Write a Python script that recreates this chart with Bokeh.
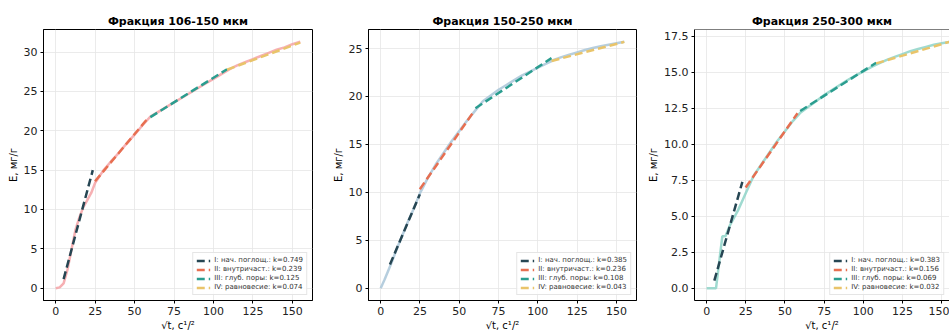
import numpy as np
from bokeh.plotting import figure
from bokeh.layouts import row
from bokeh.models import Range1d, SingleIntervalTicker, PrintfTickFormatter, Span
from bokeh.embed import file_html
from bokeh.resources import INLINE

# ---------------- data ----------------
titles = ["Фракция 106-150 мкм", "Фракция 150-250 мкм", "Фракция 250-300 мкм"]
stage_names = ["I: нач. поглощ.", "II: внутричаст.", "III: глуб. поры", "IV: равновесие"]
stage_colors = ["#264653", "#e76f51", "#2a9d8f", "#e9c46a"]
data_colors = ["#f4a2a6", "#a9c6d8", "#8ed3c8"]

x_std = [0, 2.5, 5, 7.5, 10, 12.5, 15, 17.5, 20, 22.5, 25, 30, 35, 40, 45, 50, 55, 60,
         65, 70, 75, 80, 85, 90, 95, 100, 105, 110, 115, 120, 125, 130, 135, 140, 145, 150, 155]
x_250 = [0, 2.5, 5, 6, 10, 12, 15, 17.5, 20, 22.5, 25, 30, 35, 40, 45, 50, 55, 60,
         65, 70, 75, 80, 85, 90, 95, 100, 105, 110, 115, 120, 125, 130, 135, 140, 145, 150, 155]

E_106 = [0, 0.1, 0.6, 2.4, 4.9, 7.4, 9.0, 10.3, 11.2, 12.1, 13.4, 14.9, 16.1, 17.2, 18.4, 19.5,
         20.7, 21.8, 22.4, 23.0, 23.6, 24.2, 24.8, 25.4, 26.0, 26.6, 27.2, 27.8, 28.3, 28.7, 29.1,
         29.5, 29.9, 30.3, 30.6, 31.0, 31.3]
E_150 = [0, 0.9, 1.9, 2.9, 4.0, 5.0, 6.0, 7.0, 7.9, 8.9, 9.9, 11.5, 12.9, 14.1, 15.3, 16.4,
         17.5, 18.5, 19.5, 20.1, 20.7, 21.2, 21.7, 22.2, 22.6, 23.0, 23.4, 23.8, 24.1, 24.35,
         24.6, 24.85, 25.05, 25.25, 25.4, 25.55, 25.7]
E_250 = [0, 0, 0, 0, 3.6, 3.6, 4.4, 4.9, 5.4, 6.0, 6.6, 7.8, 8.6, 9.4, 10.2, 10.9, 11.6, 12.2,
         12.6, 13.0, 13.4, 13.75, 14.1, 14.45, 14.75, 15.05, 15.35, 15.6, 15.85, 16.05, 16.25,
         16.45, 16.6, 16.75, 16.9, 17.0, 17.1]

# fitted stage lines: slope k, intercept b, x-interval
k_106 = [0.749, 0.239, 0.125, 0.074]
b_106 = [-2.6, 7.63, 14.24, 19.73]
x0_106 = [5.0, 24.9, 60.0, 108.6]
x1_106 = [23.5, 58.0, 108.6, 155.0]

k_150 = [0.385, 0.236, 0.108, 0.043]
b_150 = [0.2, 4.45, 12.26, 19.03]
x0_150 = [5.9, 24.9, 60.3, 108.7]
x1_150 = [24.9, 58.7, 108.7, 155.0]

k_250 = [0.383, 0.156, 0.069, 0.032]
b_250 = [-1.35, 3.1, 8.18, 12.14]
x0_250 = [4.9, 24.9, 59.7, 108.2]
x1_250 = [22.8, 58.0, 108.2, 155.0]

y_step = [5, 5, 2.5]

panels = [
    (x_std, E_106, k_106, b_106, x0_106, x1_106),
    (x_std, E_150, k_150, b_150, x0_150, x1_150),
    (x_250, E_250, k_250, b_250, x0_250, x1_250),
]

FONT = "DejaVu Sans"
# (figure width, min_border_left, min_border_right)
geom = [(329, 43, 17), (316, 38, 9), (304, 47, 0)]

figs = []
for i, (xs, ys, ks, bs, x0s, x1s) in enumerate(panels):
    xs_a = np.array(xs, dtype=float)
    ys_a = np.array(ys, dtype=float)
    xpad = 0.05 * (xs_a.max() - xs_a.min())
    ypad = 0.05 * (ys_a.max() - ys_a.min())
    x_end = xs_a.max() + xpad if i < 2 else xs_a.max()
    w, bl, br = geom[i]
    p = figure(width=w, height=333, output_backend="svg", toolbar_location=None,
               x_range=Range1d(xs_a.min() - xpad, x_end),
               y_range=Range1d(ys_a.min() - ypad, ys_a.max() + ypad),
               min_border_left=bl, min_border_right=br, min_border_top=29, min_border_bottom=0,
               background_fill_color="white", border_fill_color="white")
    p.title.text = titles[i]
    p.title.text_font = FONT
    p.title.text_font_size = "11px"
    p.title.text_font_style = "bold"
    p.title.align = "center"
    p.title.standoff = 4
    p.title.text_color = "black"

    p.line(xs_a, ys_a, color=data_colors[i], line_width=2.5, line_alpha=0.85)
    for j in range(4):
        sx = np.array([x0s[j], x1s[j]])
        sy = ks[j] * sx + bs[j]
        p.line(sx, sy, color=stage_colors[j], line_width=2.5, line_dash="8 4",
               legend_label=f"{stage_names[j]}: k={ks[j]:.3f}")

    p.xaxis.ticker = SingleIntervalTicker(interval=25)
    p.yaxis.ticker = SingleIntervalTicker(interval=y_step[i])
    if i == 2:
        p.yaxis.formatter = PrintfTickFormatter(format="%.1f")
    p.xaxis.axis_label = "√t, c¹/²"
    p.yaxis.axis_label = "E, мг/г"
    for ax in (p.xaxis, p.yaxis):
        ax.axis_label_text_font = FONT
        ax.axis_label_text_font_size = "10px"
        ax.axis_label_text_font_style = "normal"
        ax.axis_label_text_color = "black"
        ax.axis_label_standoff = 2
        ax.major_label_text_font = FONT
        ax.major_label_text_font_size = "11px"
        ax.major_label_text_color = "#222222"
        ax.major_label_standoff = 2
        ax.major_tick_out = 3
        ax.major_tick_in = 0
        ax.minor_tick_line_color = None
        ax.major_tick_line_color = "black"
        ax.axis_line_color = "black"
    p.grid.grid_line_color = "#e6e6e6"
    p.grid.grid_line_width = 0.8
    if i < 2:
        p.outline_line_color = "black"
        p.outline_line_width = 1
        p.outline_line_alpha = 1
    else:
        p.outline_line_color = None
        p.add_layout(Span(location=ys_a.max() + ypad, dimension="width",
                          line_color="black", line_width=1))

    lg = p.legend[0]
    lg.location = "bottom_right"
    lg.label_text_font = FONT
    lg.label_text_font_size = "7px"
    lg.label_text_color = "#333333"
    lg.glyph_width = 14
    lg.glyph_height = 7
    lg.label_height = 7
    lg.spacing = 1
    lg.padding = 3
    lg.margin = 5
    lg.label_standoff = 4
    lg.border_line_color = "#cccccc"
    lg.border_line_width = 1
    lg.background_fill_alpha = 0.85
    figs.append(p)

layout = row(*figs)
open("out.html", "w").write(file_html(layout, INLINE))
